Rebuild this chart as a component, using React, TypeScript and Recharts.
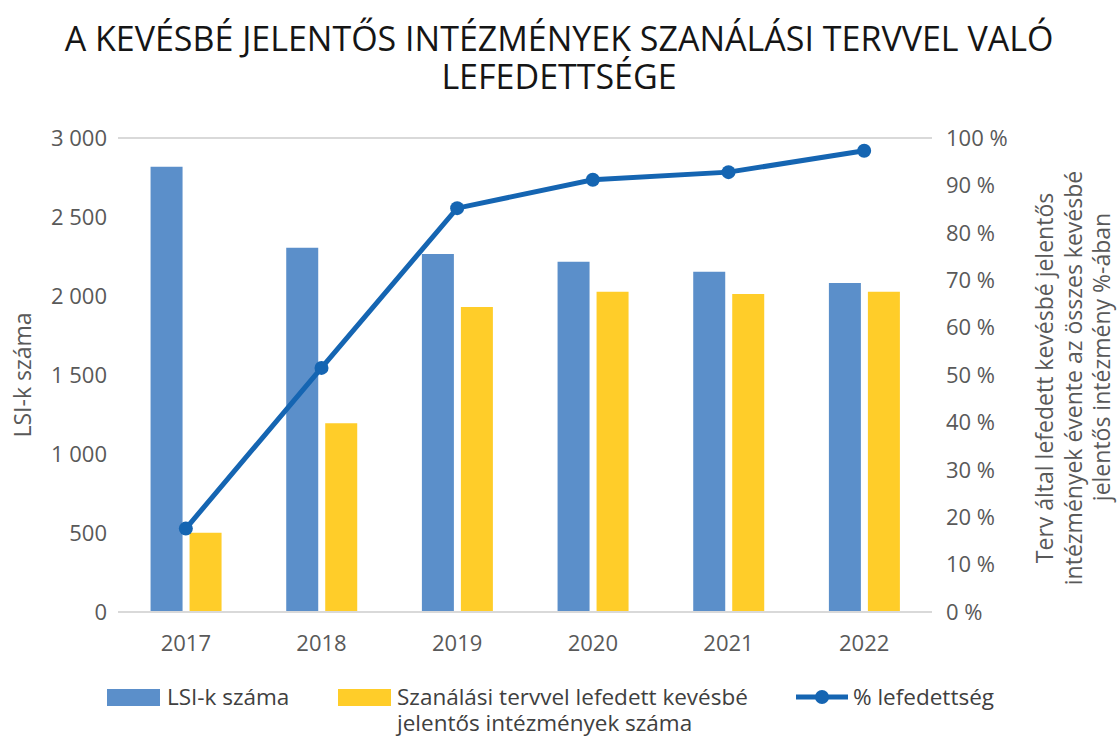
import { Bar, CartesianGrid, ComposedChart, Line, XAxis, YAxis } from "recharts"

const years = ["2017", "2018", "2019", "2020", "2021", "2022"]
const lsiCount = [2818, 2306, 2266, 2217, 2154, 2082]
const coveredCount = [502, 1194, 1930, 2027, 2013, 2027]
const coveragePct = [17.6, 51.5, 85.2, 91.2, 92.8, 97.3]
const leftTicks = [0, 500, 1000, 1500, 2000, 2500, 3000]
const rightTicks = [0, 10, 20, 30, 40, 50, 60, 70, 80, 90, 100]

const titleLines = ["A KEVÉSBÉ JELENTŐS INTÉZMÉNYEK SZANÁLÁSI TERVVEL VALÓ", "LEFEDETTSÉGE"]
const rightTitle = [
    "Terv által lefedett kevésbé jelentős",
    "intézmények évente az összes kevésbé",
    "jelentős intézmény %-ában",
]

const data = years.map((year, i) => ({
    year,
    lsi: lsiCount[i],
    covered: coveredCount[i],
    pct: coveragePct[i],
}))

const FONT = "'Open Sans', 'Noto Sans', sans-serif"
const BLUE = "#5b8fca"
const YELLOW = "#ffcd29"
const LINE = "#1565b2"
const TEXT = "#595959"

const fmtThousands = (v: number) => v.toLocaleString("en-US").replace(/,/g, " ")

const App = () => {
    return (
        <div style={{ position: "absolute", left: 0, top: 0, width: 1118, height: 738, background: "#fff", fontFamily: FONT }}>
            <div style={{ position: "absolute", top: 19, left: 0, width: 1118, textAlign: "center", fontSize: 34, lineHeight: "38px", color: "#151515" }}>
                {titleLines.map((t) => <div key={t}>{t}</div>)}
            </div>

            <ComposedChart
                width={1118}
                height={738}
                data={data}
                margin={{ top: 138, right: 0, bottom: 86, left: 0 }}
                barCategoryGap="24%"
                barGap={7}
                style={{ position: "absolute", left: 0, top: 0 }}
            >
                <CartesianGrid vertical={false} stroke="#d9d9d9" strokeWidth={2} />
                <XAxis
                    dataKey="year"
                    tickLine={false}
                    tickSize={0}
                    tickMargin={23}
                    axisLine={{ stroke: "#d9d9d9", strokeWidth: 2 }}
                    tick={{ fill: TEXT, fontSize: 22, fontFamily: FONT }}
                    height={40}
                />
                <YAxis
                    yAxisId="left"
                    width={118}
                    domain={[0, 3000]}
                    ticks={leftTicks}
                    tickFormatter={fmtThousands}
                    tickLine={false}
                    axisLine={false}
                    tickSize={0}
                    tickMargin={11}
                    tick={{ fill: TEXT, fontSize: 22, fontFamily: FONT }}
                    label={(props: any) => {
                        const vb = props.viewBox
                        const cy = vb.y + vb.height / 2
                        const cx = 22
                        return (
                            <text x={cx} y={cy} transform={`rotate(-90 ${cx} ${cy})`} textAnchor="middle" dominantBaseline="central" fill={TEXT} fontSize={23} fontFamily={FONT}>
                                LSI-k száma
                            </text>
                        )
                    }}
                />
                <YAxis
                    yAxisId="right"
                    orientation="right"
                    width={186}
                    domain={[0, 100]}
                    ticks={rightTicks}
                    tickFormatter={(v) => `${v} %`}
                    tickLine={false}
                    axisLine={false}
                    tickSize={0}
                    tickMargin={14}
                    tick={{ fill: TEXT, fontSize: 22, fontFamily: FONT, textAnchor: "start" }}
                    label={(props: any) => {
                        const vb = props.viewBox
                        const mid = vb.y + vb.height / 2
                        return (
                            <g>
                                {rightTitle.map((t, i) => {
                                    const cx = 1044 + i * 28.5
                                    const cy = i === 2 ? mid - 18 : mid + 3
                                    return (
                                        <text key={t} x={cx} y={cy} transform={`rotate(-90 ${cx} ${cy})`} textAnchor="middle" dominantBaseline="central" fill={TEXT} fontSize={23} fontFamily={FONT}>
                                            {t}
                                        </text>
                                    )
                                })}
                            </g>
                        )
                    }}
                />
                <Bar yAxisId="left" dataKey="lsi" fill={BLUE} isAnimationActive={false} />
                <Bar yAxisId="left" dataKey="covered" fill={YELLOW} isAnimationActive={false} />
                <Line
                    yAxisId="right"
                    dataKey="pct"
                    stroke={LINE}
                    strokeWidth={5}
                    dot={{ r: 7, fill: LINE, stroke: LINE, strokeWidth: 0 }}
                    isAnimationActive={false}
                />
            </ComposedChart>

            <div style={{ position: "absolute", top: 684, left: 0, width: 1118, fontSize: 22.5, color: "#404040", lineHeight: "26px" }}>
                <div style={{ position: "absolute", left: 107, top: 5, width: 53, height: 17, background: BLUE }} />
                <div style={{ position: "absolute", left: 167, top: 0, whiteSpace: "nowrap" }}>LSI-k száma</div>
                <div style={{ position: "absolute", left: 338, top: 5, width: 53, height: 17, background: YELLOW }} />
                <div style={{ position: "absolute", left: 397, top: 0, width: 400 }}>
                    Szanálási tervvel lefedett kevésbé<br />jelentős intézmények száma
                </div>
                <svg style={{ position: "absolute", left: 794, top: 1 }} width={56} height={24}>
                    <line x1={2} y1={12} x2={54} y2={12} stroke={LINE} strokeWidth={5} />
                    <circle cx={28} cy={12} r={7} fill={LINE} />
                </svg>
                <div style={{ position: "absolute", left: 853, top: 0, whiteSpace: "nowrap" }}>% lefedettség</div>
            </div>
        </div>
    )
}

export default App
